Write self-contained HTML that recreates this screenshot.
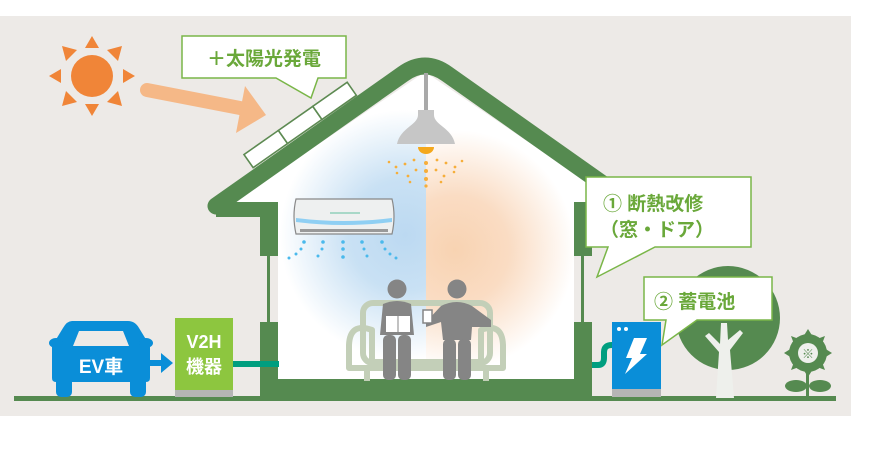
<!DOCTYPE html>
<html><head><meta charset="utf-8"><style>
html,body{margin:0;padding:0;background:#fff;}
svg{display:block;}
text{font-family:"Liberation Sans","Noto Sans CJK JP",sans-serif;font-weight:bold;}
</style></head><body>
<svg width="886" height="469" viewBox="0 0 886 469" xmlns="http://www.w3.org/2000/svg">
<defs>
<radialGradient id="bl" cx="405" cy="235" r="125" gradientUnits="userSpaceOnUse">
<stop offset="0" stop-color="#bcd9f1"/><stop offset="0.45" stop-color="#c9e1f4"/><stop offset="1" stop-color="#fff"/></radialGradient>
<radialGradient id="or" cx="455" cy="250" r="120" gradientUnits="userSpaceOnUse">
<stop offset="0" stop-color="#f8d3b2"/><stop offset="0.45" stop-color="#fadcc3"/><stop offset="1" stop-color="#fff"/></radialGradient>
<clipPath id="hin"><polygon points="425,72 232,203 278,203 278,379 574,379 574,203 618,203"/></clipPath>
</defs>
<rect x="0" y="16" width="851" height="400" fill="#edeae7"/>
<polygon points="425,72 232,203 278,203 278,379 574,379 574,203 618,203" fill="#fff"/>
<g clip-path="url(#hin)">
<rect x="200" y="60" width="226" height="330" fill="url(#bl)"/>
<rect x="426" y="60" width="200" height="330" fill="url(#or)"/>
</g>
<path d="M216,206 L403,74 Q425,58 447,74 L634,206" fill="none" stroke="#558a50" stroke-width="17" stroke-linejoin="round" stroke-linecap="round"/>
<rect x="216" y="202" width="62" height="15" fill="#558a50"/>
<rect x="574" y="202" width="60" height="15" fill="#558a50"/>
<rect x="260" y="205" width="18" height="51" fill="#558a50"/>
<rect x="267" y="255" width="3" height="68" fill="#558a50"/>
<rect x="260" y="322" width="18" height="78" fill="#558a50"/>
<rect x="574" y="205" width="18" height="51" fill="#558a50"/>
<rect x="581" y="255" width="3" height="68" fill="#558a50"/>
<rect x="574" y="322" width="18" height="78" fill="#558a50"/>
<rect x="260" y="379" width="332" height="21" fill="#558a50"/>
<rect x="14" y="396" width="822" height="5" fill="#558a50"/>
<g transform="translate(252,166) rotate(-35)" fill="#fff" stroke="#5d8a52" stroke-width="1.6">
<rect x="0" y="-14" width="42" height="16"/><rect x="42" y="-14" width="42" height="16"/><rect x="84" y="-14" width="42" height="16"/>
</g>
<g fill="#f08538">
<circle cx="92" cy="76" r="21"/>
<polygon points="92,36 85,48 99,48"/><polygon points="92,116 85,104 99,104"/>
<polygon points="49,76 61,69 61,83"/><polygon points="135,76 123,69 123,83"/>
<polygon points="62,46 77,50 66,61"/><polygon points="122,46 107,50 118,61"/>
<polygon points="62,106 77,102 66,91"/><polygon points="122,106 107,102 118,91"/>
</g>
<line x1="147" y1="90" x2="240" y2="108" stroke="#f5b887" stroke-width="14" stroke-linecap="round"/>
<polygon points="245,86 266,115 236,133" fill="#f5b887"/>
<polygon points="182,36 346,36 346,78 318,78 311,98 276,78 182,78" fill="#fff" stroke="#7ab648" stroke-width="1.5"/>
<text x="264" y="65" font-size="19" fill="#6aa83a" text-anchor="middle">＋太陽光発電</text>
<rect x="424" y="73" width="4" height="38" fill="#a9a9a9"/>
<path d="M418,110 H434 V115 C434,125 452,128 455,144 H397 C400,128 418,125 418,115 Z" fill="#c6c6c6"/>
<path d="M418,147 A8,7 0 0 0 434,147 Z" fill="#f4a81d"/>
<g fill="#f6ae3a">
<circle cx="426" cy="163" r="2"/><circle cx="426" cy="171" r="2"/><circle cx="426" cy="179" r="2"/><circle cx="426" cy="186" r="1.6"/>
<circle cx="414" cy="160" r="1.4"/><circle cx="405" cy="164" r="1.4"/><circle cx="396" cy="167" r="1.4"/><circle cx="389" cy="162" r="1.3"/>
<circle cx="416" cy="170" r="1.4"/><circle cx="408" cy="176" r="1.4"/><circle cx="397" cy="173" r="1.3"/><circle cx="410" cy="182" r="1.3"/>
<circle cx="437" cy="160" r="1.4"/><circle cx="446" cy="163" r="1.4"/><circle cx="455" cy="167" r="1.4"/><circle cx="462" cy="161" r="1.3"/>
<circle cx="436" cy="170" r="1.4"/><circle cx="444" cy="176" r="1.4"/><circle cx="454" cy="172" r="1.3"/><circle cx="441" cy="182" r="1.3"/>
</g>
<path d="M296,199 H392 Q396,216 392,234 H296 Q292,216 296,199 Z" fill="#eef0f0" stroke="#888" stroke-width="1.2"/>
<path d="M296,218 Q344,224 392,218 L392,222 Q344,228 296,222 Z" fill="#8fcff3"/>
<rect x="300" y="229" width="88" height="3" fill="#999"/>
<rect x="330" y="212" width="30" height="2" fill="#a8d8c8"/>
<g fill="#4ab9ec">
<circle cx="304" cy="242" r="1.8"/><circle cx="301" cy="249" r="1.5"/><circle cx="296" cy="254" r="1.5"/><circle cx="289" cy="258" r="1.5"/>
<circle cx="323" cy="242" r="1.8"/><circle cx="322" cy="249" r="1.5"/><circle cx="318" cy="256" r="1.5"/>
<circle cx="343" cy="242" r="1.8"/><circle cx="343" cy="249" r="1.8"/><circle cx="343" cy="257" r="1.8"/>
<circle cx="362" cy="242" r="1.8"/><circle cx="364" cy="249" r="1.5"/><circle cx="367" cy="256" r="1.5"/>
<circle cx="382" cy="242" r="1.8"/><circle cx="385" cy="249" r="1.5"/><circle cx="390" cy="254" r="1.5"/><circle cx="396" cy="258" r="1.5"/>
</g>
<g fill="none" stroke="#c3cfb8" stroke-width="6" stroke-linejoin="round">
<rect x="363" y="303" width="127" height="60" rx="10"/>
<path d="M372,330 Q350,322 349,345 V368 H503 V345 Q502,322 481,330 V362 H372 Z"/>
</g>
<line x1="367" y1="370" x2="367" y2="381" stroke="#c3cfb8" stroke-width="6"/>
<line x1="486" y1="370" x2="486" y2="381" stroke="#c3cfb8" stroke-width="6"/>
<g fill="#858585">
<circle cx="397" cy="289" r="9.5"/>
<path d="M383,304 Q397,298 411,304 L414,335 H380 Z"/>
<rect x="383" y="335" width="13" height="45" rx="5"/><rect x="398" y="335" width="13" height="45" rx="5"/>
<circle cx="457" cy="289" r="9.5"/>
<path d="M441,306 Q457,298 472,306 L491,320 V327 H472 L471,340 H443 L441,322 L426,327 V322 Z"/>
<rect x="443" y="339" width="13" height="41" rx="5"/><rect x="458" y="339" width="13" height="41" rx="5"/>
</g>
<rect x="386" y="316" width="24" height="16" fill="#fff"/><line x1="398" y1="316" x2="398" y2="332" stroke="#858585"/>
<rect x="423" y="310" width="9" height="13" fill="#fff" stroke="#858585" stroke-width="1.5"/>
<polygon points="586,177 751,177 751,247 655,247 597,277 608,247 586,247" fill="#fff" stroke="#7ab648" stroke-width="1.5"/>
<text x="603" y="210" font-size="19" fill="#6aa83a">① 断熱改修</text>
<text x="600" y="236" font-size="19" fill="#6aa83a">（窓・ドア）</text>
<ellipse cx="728" cy="318" rx="52" ry="52" fill="#558a50"/>
<path d="M716,398 L719,352 L705,336 L709,333 L720,344 L721,323 L727,323 L728,340 L740,330 L743,333 L730,350 L734,398 Z" fill="#eef0ec"/>
<g fill="#558a50">
<circle cx="808" cy="353" r="19"/>
<g transform="translate(808,353)">
<polygon points="0,-24 5,-16 -5,-16"/><polygon points="0,24 5,16 -5,16"/><polygon points="-24,0 -16,5 -16,-5"/><polygon points="24,0 16,5 16,-5"/>
<polygon points="-17,-17 -9,-14 -14,-9"/><polygon points="17,-17 9,-14 14,-9"/><polygon points="-17,17 -9,14 -14,9"/><polygon points="17,17 9,14 14,9"/>
</g>
<rect x="806" y="370" width="3" height="28"/>
<ellipse cx="796" cy="386" rx="11" ry="6"/><ellipse cx="820" cy="386" rx="11" ry="6"/>
</g>
<circle cx="808" cy="353" r="10" fill="#eef0ec"/>
<text x="808" y="358" font-size="12" fill="#558a50" text-anchor="middle">※</text>
<rect x="612" y="322" width="49" height="68" fill="#0a8ed8"/>
<rect x="612" y="389" width="49" height="8" fill="#b5b5b5"/>
<circle cx="619" cy="329" r="2" fill="#fff"/><circle cx="626" cy="329" r="2" fill="#fff"/>
<polygon points="634,338 647,338 640,354 647,354 625,374 632,358 626,358" fill="#fff"/>
<path d="M592,365 H598 Q604,365 604,358 V352 Q604,345 612,345" fill="none" stroke="#009e7f" stroke-width="6"/>
<polygon points="644,277 772,277 772,320 697,320 662,345 666,320 644,320" fill="#fff" stroke="#7ab648" stroke-width="1.5"/>
<text x="654" y="308" font-size="19" fill="#6aa83a">②  蓄電池</text>
<g fill="#0a8ed8">
<path d="M72,321 H128 Q135,321 139,328 L150,346 V378 Q150,382 146,382 H56 Q52,382 52,378 V346 L63,328 Q67,321 72,321 Z"/>
<rect x="56" y="375" width="16" height="22" rx="5"/><rect x="130" y="375" width="16" height="22" rx="5"/>
<ellipse cx="56" cy="343" rx="7" ry="5"/><ellipse cx="146" cy="343" rx="7" ry="5"/>
<rect x="148" y="360" width="14" height="6"/>
<polygon points="161,353 173,363 161,373"/>
</g>
<path d="M73,346 L79,331 H123 L129,346 Z" fill="#edeae7"/>
<text x="101" y="373" font-size="19" fill="#fff" text-anchor="middle" font-weight="normal">EV車</text>
<rect x="175" y="318" width="58" height="73" fill="#8dc63f"/>
<rect x="175" y="390" width="58" height="7" fill="#b5b5b5"/>
<text x="204" y="348" font-size="18" fill="#fff" text-anchor="middle">V2H</text>
<text x="204" y="373" font-size="18" fill="#fff" text-anchor="middle">機器</text>
<rect x="233" y="361" width="46" height="6" fill="#009e7f"/>
</svg>
</body></html>
